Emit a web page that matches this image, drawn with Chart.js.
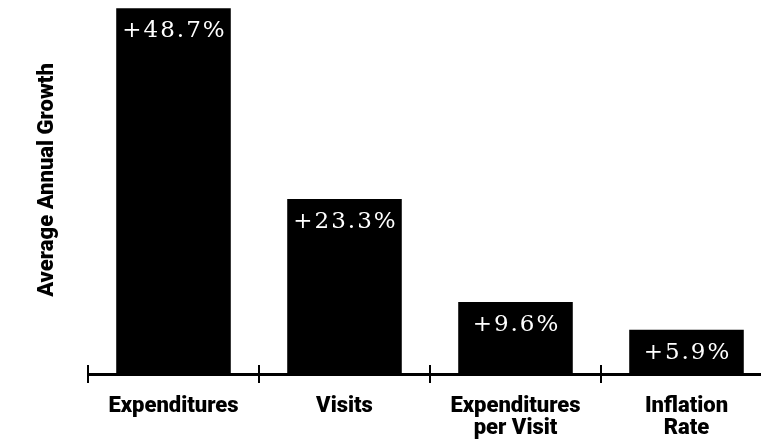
<!DOCTYPE html>
<html>
<head>
<meta charset="utf-8">
<script src="https://cdn.jsdelivr.net/npm/chart.js@4/dist/chart.umd.min.js"></script>
<style>
  html, body { margin: 0; padding: 0; background: #fff; overflow: hidden; }
  #wrap { width: 761px; height: 446px; overflow: hidden; }
</style>
</head>
<body>
<div id="wrap"><canvas id="chartGrowth" width="776" height="446"></canvas></div>
<script>
const categorias = [['Expenditures'], ['Visits'], ['Expenditures', 'per Visit'], ['Inflation', 'Rate']];
const crescimento = [48.7, 23.3, 9.6, 5.9];
const rotulos = ['+48.7%', '+23.3%', '+9.6%', '+5.9%'];
const tituloY = 'Average Annual Growth';

function renderiza_crescimento() {
    const ctx = document.getElementById('chartGrowth').getContext('2d');

    new Chart(ctx, {
        type: 'bar',
        data: {
            labels: categorias,
            datasets: [{
                data: crescimento,
                backgroundColor: '#000',
                borderWidth: 0,
                barPercentage: 0.67,
                categoryPercentage: 1,
            }]
        },
        options: {
            responsive: false,
            animation: false,
            events: [],
            plugins: {
                legend: { display: false },
                tooltip: { enabled: false }
            },
            layout: { padding: { left: 88, right: 4, top: 0, bottom: -6 } },
            scales: {
                x: {
                    offset: true,
                    grid: { display: false },
                    border: { display: true, color: '#000', width: 3 },
                    ticks: {
                        color: '#000',
                        padding: 13,
                        maxRotation: 0,
                        autoSkip: false,
                        font: { family: 'Roboto, "Liberation Sans", Arial', size: 22, weight: 900, lineHeight: 1.0 }
                    }
                },
                y: {
                    display: false,
                    min: 0,
                    max: 49.8
                }
            }
        },
        plugins: [{
            id: 'marcasEixo',
            afterDraw: function(chart) {
                const c = chart.ctx;
                const x = chart.scales.x;
                const yBase = chart.chartArea.bottom;
                c.save();
                c.strokeStyle = '#000';
                c.lineWidth = 2;
                for (let i = 0; i <= categorias.length; i++) {
                    const px = Math.round(x.getPixelForValue(i - 0.5));
                    c.beginPath();
                    c.moveTo(px, yBase - 9);
                    c.lineTo(px, yBase + 9);
                    c.stroke();
                }
                c.restore();
            }
        }, {
            id: 'rotulosBarras',
            afterDatasetsDraw: function(chart) {
                const c = chart.ctx;
                const meta = chart.getDatasetMeta(0);
                c.save();
                c.font = '23px "DejaVu Serif"';
                c.letterSpacing = '2px';
                c.fillStyle = '#fff';
                c.textAlign = 'center';
                c.textBaseline = 'middle';
                meta.data.forEach((bar, i) => {
                    c.fillText(rotulos[i], bar.x + 1, bar.y + 23);
                });
                c.restore();
            }
        }, {
            id: 'tituloY',
            afterDraw: function(chart) {
                const c = chart.ctx;
                const area = chart.chartArea;
                c.save();
                c.translate(47, (area.top + area.bottom) / 2 - 7);
                c.rotate(-Math.PI / 2);
                c.font = '900 22px Roboto, "Liberation Sans", Arial';
                c.fillStyle = '#000';
                c.textAlign = 'center';
                c.textBaseline = 'middle';
                c.fillText(tituloY, 0, 0);
                c.restore();
            }
        }]
    });
}

renderiza_crescimento();
</script>
</body>
</html>
